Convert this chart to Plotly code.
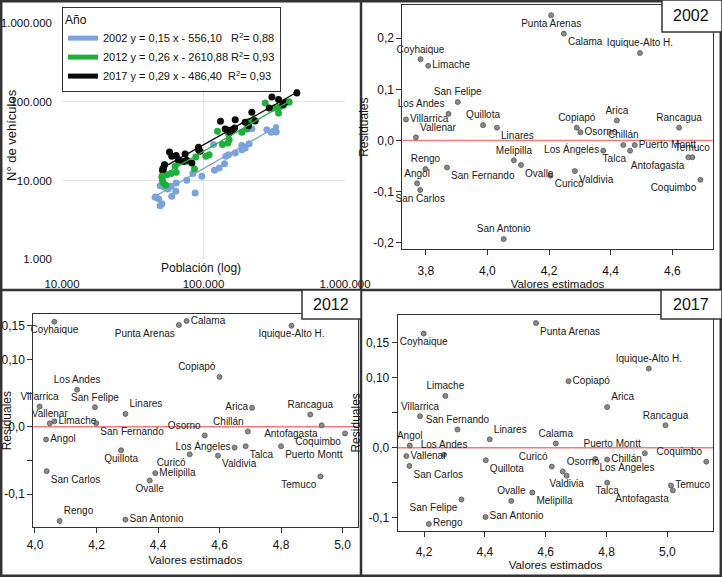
import plotly.graph_objects as go

# ---------------- DATA ----------------
years = ["2002", "2012", "2017"]
legend_labels = [
    "2002 y = 0,15 x - 556,10   R<sup>2</sup>= 0,88",
    "2012 y = 0,26 x - 2610,88 R<sup>2</sup>= 0,93",
    "2017 y = 0,29 x - 486,40  R<sup>2</sup>= 0,93",
]

# Panel 1: población vs n° de vehículos (log-log)
pop_2002 = [45500, 48100, 49400, 50800, 49400, 52700, 56000, 59000, 59700, 63700, 64100,
            76200, 87300, 84100, 97300, 117700, 119700, 129100, 140700, 143900, 150300,
            167500, 186700, 196900, 210200, 219600, 280500, 300900, 312600, 326400, 186700]
veh_2002 = [6140, 5900, 4810, 5100, 8630, 8300, 7830, 8470, 6320, 7310, 9330,
            10090, 6970, 12280, 11350, 28700, 13520, 14490, 16440, 20380, 21400,
            22490, 27870, 26020, 29510, 45800, 44500, 41150, 42400, 41550, 24770]
pop_2012 = [50800, 51300, 52100, 54200, 53000, 55100, 59000, 64100, 63100, 66500, 76200,
            86300, 88300, 103800, 109600, 125500, 136200, 148600, 151800, 150300, 163000,
            186700, 202500, 211300, 225600, 272900, 312600, 339100, 342700, 367400, 402700]
veh_2012 = [11140, 10000, 9340, 8720, 15960, 11910, 12280, 12760, 15210, 17100, 17620,
            14060, 19990, 20380, 21400, 42400, 28700, 30120, 33200, 39560, 45400,
            41150, 45400, 56800, 59600, 97100, 83900, 72500, 86300, 90700, 99100]
pop_2017 = [457100, 304300, 339100, 363800, 291100, 219600, 167500, 131900, 142200, 150300,
            160300, 165600, 196900, 231700, 92200, 94700, 57500, 64100, 74100, 66500,
            76200, 72200, 53000, 52100, 51300, 208000, 92200, 154200, 59700, 82800, 377600]
veh_2017 = [130100, 115800, 107100, 92500, 83900, 73900, 59600, 56800, 45400, 43650,
            44500, 46700, 55200, 57300, 26540, 23600, 23130, 20800, 21830, 18490,
            18130, 17450, 15960, 14060, 13520, 50000, 24770, 41150, 20380, 16800, 99100]

# fitted lines (end points)
fit_pop = {"2002": [45500, 326000], "2012": [50800, 402700], "2017": [51300, 457000]}
fit_veh = {"2002": [6300, 48000], "2012": [11600, 101900], "2017": [14500, 132700]}

log_x_ticks = [10000, 100000, 1000000]
log_x_text = ["10.000", "100.000", "1.000.000"]
log_y_ticks = [1000, 10000, 100000, 1000000]
log_y_text = ["1.000", "10.000", "100.000", "1.000.000"]

# Residual panels
cities = ["Angol", "Antofagasta", "Arica", "Calama", "Chillán", "Copiapó", "Coquimbo",
          "Coyhaique", "Curicó", "Iquique-Alto H.", "Limache", "Linares", "Los Andes",
          "Los Ángeles", "Melipilla", "Osorno", "Ovalle", "Puerto Montt", "Punta Arenas",
          "Quillota", "Rancagua", "Rengo", "San Antonio", "San Carlos", "San Felipe",
          "San Fernando", "Talca", "Temuco", "Valdivia", "Vallenar", "Villarrica"]

fitted_2002 = [3.772, 4.652, 4.420, 4.248, 4.441, 4.290, 4.691, 3.783, 4.205, 4.495, 3.808,
               4.031, 3.874, 4.376, 4.086, 4.302, 4.109, 4.478, 4.207, 3.986, 4.622, 3.799,
               4.053, 3.782, 3.904, 3.869, 4.463, 4.665, 4.284, 3.768, 3.736]
resid_2002 = [-0.084, -0.033, 0.039, 0.209, -0.009, 0.025, -0.077, 0.159, -0.069, 0.171, 0.146,
              0.025, 0.052, -0.020, -0.039, 0.016, -0.048, -0.009, 0.245, 0.030, 0.025, -0.056,
              -0.193, -0.097, 0.075, -0.053, -0.020, -0.033, -0.060, 0.006, 0.041]

fitted_2012 = [4.036, 4.932, 4.706, 4.493, 4.692, 4.600, 5.008, 4.063, 4.503, 4.834, 4.063,
               4.294, 4.137, 4.649, 4.391, 4.552, 4.373, 4.800, 4.468, 4.280, 4.895, 4.080,
               4.294, 4.038, 4.195, 4.199, 4.685, 4.928, 4.595, 4.048, 4.015]
resid_2012 = [-0.019, 0.002, 0.028, 0.157, -0.007, 0.074, -0.010, 0.156, -0.041, 0.150, 0.008,
              0.019, 0.055, -0.031, -0.069, -0.013, -0.080, -0.029, 0.151, -0.035, 0.018, -0.140,
              -0.138, -0.066, 0.029, 0.005, -0.029, -0.074, -0.043, 0.005, 0.030]

fitted_2017 = [4.153, 5.018, 4.802, 4.633, 4.802, 4.675, 5.128, 4.199, 4.620, 4.939, 4.270,
               4.416, 4.266, 4.763, 4.556, 4.656, 4.487, 4.926, 4.568, 4.403, 4.994, 4.216,
               4.402, 4.152, 4.323, 4.310, 4.802, 5.012, 4.669, 4.142, 4.187]
resid_2017 = [0.003, -0.061, 0.058, 0.006, -0.017, 0.095, -0.020, 0.163, -0.027, 0.113, 0.074,
              0.012, -0.010, -0.016, -0.064, -0.034, -0.076, -0.008, 0.178, -0.018, 0.032, -0.109,
              -0.099, -0.026, -0.074, 0.026, -0.050, -0.054, -0.040, -0.012, 0.045]

x_ticks_2002 = [3.8, 4.0, 4.2, 4.4, 4.6]
x_text_2002 = ["3,8", "4,0", "4,2", "4,4", "4,6"]
y_ticks_2002 = [-0.2, -0.1, 0.0, 0.1, 0.2]
y_text_2002 = ["-0,2", "-0,1", "0,0", "0,1", "0,2"]
x_ticks_2012 = [4.0, 4.2, 4.4, 4.6, 4.8, 5.0]
x_text_2012 = ["4,0", "4,2", "4,4", "4,6", "4,8", "5,0"]
y_ticks_2012 = [-0.1, 0.0, 0.10, 0.15]
y_text_2012 = ["-0,1", "0,0", "0,10", "0,15"]
y_minor_2012 = [-0.05, 0.05]
x_ticks_2017 = [4.2, 4.4, 4.6, 4.8, 5.0]
x_text_2017 = ["4,2", "4,4", "4,6", "4,8", "5,0"]
y_ticks_2017 = [-0.1, 0.0, 0.10, 0.15]
y_text_2017 = ["-0,1", "0,0", "0,10", "0,15"]
y_minor_2017 = [-0.05, 0.05]

# ---------------- STYLE ----------------
W, H = 722, 577
FONT = "Liberation Sans, Arial, sans-serif"
DARK = "#333333"
year_colors = {"2002": "#7BA3D9", "2012": "#1FAF3A", "2017": "#0A0A0A"}

label_pos = {
    "2002": {"Angol": "top center", "Antofagasta": "bottom left", "Arica": "top center",
             "Calama": "bottom right", "Chillán": "top center", "Copiapó": "top center",
             "Coquimbo": "bottom left", "Coyhaique": "top center", "Curicó": "bottom right",
             "Iquique-Alto H.": "top center", "Limache": "middle right", "Linares": "bottom right",
             "Los Andes": "top left", "Los Ángeles": "middle left", "Melipilla": "top center",
             "Osorno": "middle right", "Ovalle": "bottom right", "Puerto Montt": "middle right",
             "Punta Arenas": "bottom center", "Quillota": "top center", "Rancagua": "top center",
             "Rengo": "top center", "San Antonio": "top center", "San Carlos": "bottom center",
             "San Felipe": "top center", "San Fernando": "bottom right", "Talca": "bottom left",
             "Temuco": "top center", "Valdivia": "bottom right", "Vallenar": "top right",
             "Villarrica": "middle right"},
    "2012": {"Angol": "middle right", "Antofagasta": "bottom left", "Arica": "middle left",
             "Calama": "middle right", "Chillán": "top left", "Copiapó": "top left",
             "Coquimbo": "bottom left", "Coyhaique": "bottom center", "Curicó": "bottom left",
             "Iquique-Alto H.": "bottom center", "Limache": "middle right", "Linares": "top right",
             "Los Andes": "top center", "Los Ángeles": "middle left", "Melipilla": "middle right",
             "Osorno": "top left", "Ovalle": "bottom center", "Puerto Montt": "bottom right",
             "Punta Arenas": "bottom left", "Quillota": "bottom center", "Rancagua": "top center",
             "Rengo": "top right", "San Antonio": "middle right", "San Carlos": "bottom right",
             "San Felipe": "top center", "San Fernando": "bottom right", "Talca": "bottom right",
             "Temuco": "bottom left", "Valdivia": "bottom right", "Vallenar": "top center",
             "Villarrica": "top center"},
    "2017": {"Angol": "top center", "Antofagasta": "bottom left", "Arica": "top right",
             "Calama": "top center", "Chillán": "middle right", "Copiapó": "middle right",
             "Coquimbo": "top left", "Coyhaique": "bottom center", "Curicó": "top left",
             "Iquique-Alto H.": "top center", "Limache": "top center", "Linares": "top right",
             "Los Andes": "top center", "Los Ángeles": "bottom right", "Melipilla": "bottom right",
             "Osorno": "top right", "Ovalle": "top center", "Puerto Montt": "top left",
             "Punta Arenas": "bottom right", "Quillota": "bottom right", "Rancagua": "top center",
             "Rengo": "middle right", "San Antonio": "middle right", "San Carlos": "bottom right",
             "San Felipe": "bottom left", "San Fernando": "top center", "Talca": "bottom center",
             "Temuco": "middle right", "Valdivia": "bottom center", "Vallenar": "middle right",
             "Villarrica": "top center"},
}


def px_x(p):
    return p / W


def px_y(p):
    return 1 - p / H


fig = go.Figure()

# ---- panel 1 scatter ----
scatter_data = {"2002": (pop_2002, veh_2002), "2012": (pop_2012, veh_2012),
                "2017": (pop_2017, veh_2017)}
for yr in years:
    xs, ys = scatter_data[yr]
    fig.add_trace(go.Scatter(x=xs, y=ys, mode="markers", showlegend=False,
                             marker=dict(size=7, color=year_colors[yr]),
                             xaxis="x", yaxis="y", hoverinfo="skip"))
for yr, lab in zip(years, legend_labels):
    fig.add_trace(go.Scatter(x=fit_pop[yr], y=fit_veh[yr], mode="lines+markers", name=lab,
                             marker=dict(size=0, color=year_colors[yr]),
                             line=dict(color=year_colors[yr], width=1.3),
                             xaxis="x", yaxis="y"))

# ---- residual panels ----
resid_sets = [("2002", fitted_2002, resid_2002, "x2", "y2"),
              ("2012", fitted_2012, resid_2012, "x3", "y3"),
              ("2017", fitted_2017, resid_2017, "x4", "y4")]
for yr, fx, ry, xa, ya in resid_sets:
    fig.add_trace(go.Scatter(
        x=fx, y=ry, mode="markers+text", text=cities,
        textposition=[label_pos[yr][c] for c in cities],
        textfont=dict(family=FONT, size=10, color="#1a1a1a"),
        marker=dict(size=5, color="#8a8a8a", line=dict(color="#555555", width=0.8)),
        showlegend=False, xaxis=xa, yaxis=ya, cliponaxis=False))

res_axis = dict(showline=True, mirror=True, linecolor=DARK, linewidth=1, ticks="outside",
                ticklen=5, tickcolor=DARK, showgrid=False, zeroline=False, automargin=False,
                tickfont=dict(family=FONT, size=12, color="#111"))
minor_style = dict(ticks="outside", ticklen=5, tickcolor=DARK, showgrid=False)
xtitle_font = dict(family=FONT, size=11.5, color="#111")
ytitle_font = dict(family=FONT, size=12, color="#111")

fig.update_layout(
    template="none",
    width=W, height=H, margin=dict(l=0, r=0, t=0, b=0, autoexpand=False),
    paper_bgcolor="white", plot_bgcolor="white",
    font=dict(family=FONT, color="#111"),
    xaxis=dict(type="log", range=[4, 6], domain=[px_x(62), px_x(345)], anchor="y",
               showgrid=True, gridcolor="#e4e4e4", gridwidth=1, zeroline=False,
               tickvals=log_x_ticks, ticktext=log_x_text, ticks="", ticklabelstandoff=16,
               tickfont=dict(family=FONT, size=11.5, color="#111"), showline=False,
               automargin=False),
    yaxis=dict(type="log", range=[3, 6], domain=[px_y(259.3), px_y(23.3)], anchor="x",
               showgrid=True, gridcolor="#e4e4e4", gridwidth=1, zeroline=False,
               tickvals=log_y_ticks, ticktext=log_y_text, ticks="", ticklabelstandoff=9,
               tickfont=dict(family=FONT, size=11.5, color="#111"), showline=False,
               automargin=False),
    xaxis2=dict(res_axis, range=[3.724, 4.731], domain=[px_x(402.3), px_x(712.7)], anchor="y2",
                tickvals=x_ticks_2002, ticktext=x_text_2002, ticklabelstandoff=5,
                title=dict(text="Valores estimados", font=xtitle_font, standoff=0)),
    yaxis2=dict(res_axis, range=[-0.213, 0.265], domain=[px_y(249.3), px_y(5)], anchor="x2",
                tickvals=y_ticks_2002, ticktext=y_text_2002,
                title=dict(text="Residuales", font=ytitle_font, standoff=2)),
    xaxis3=dict(res_axis, range=[3.9945, 5.0486], domain=[px_x(33.3), px_x(357.5)], anchor="y3",
                tickvals=x_ticks_2012, ticktext=x_text_2012, ticklabelstandoff=1,
                title=dict(text="Valores estimados", font=xtitle_font, standoff=5)),
    yaxis3=dict(res_axis, range=[-0.1494, 0.1674], domain=[px_y(527.3), px_y(314)], anchor="x3",
                tickvals=y_ticks_2012, ticktext=y_text_2012,
                minor=dict(minor_style, tickvals=y_minor_2012),
                title=dict(text="Residuales", font=ytitle_font, standoff=2)),
    xaxis4=dict(res_axis, range=[4.1135, 5.151], domain=[px_x(397.7), px_x(713.3)], anchor="y4",
                tickvals=x_ticks_2017, ticktext=x_text_2017, ticklabelstandoff=5,
                title=dict(text="Valores estimados", font=xtitle_font, standoff=0)),
    yaxis4=dict(res_axis, range=[-0.1186, 0.1896], domain=[px_y(530.7), px_y(315)], anchor="x4",
                tickvals=y_ticks_2017, ticktext=y_text_2017,
                minor=dict(minor_style, tickvals=y_minor_2017),
                title=dict(text="Residuales", font=ytitle_font, standoff=2)),
    legend=dict(x=px_x(62), y=px_y(7), xanchor="left", yanchor="top", bgcolor="white",
                bordercolor=DARK, borderwidth=1, itemsizing="constant", tracegroupgap=0,
                itemwidth=30,
                font=dict(family=FONT, size=11, color="#111"),
                title=dict(text="Año", font=dict(family=FONT, size=12, color="#111"))),
)

shapes = []
# zero lines
for xa, ya in [("x2", "y2"), ("x3", "y3"), ("x4", "y4")]:
    shapes.append(dict(type="line", xref=f"{xa} domain", x0=0, x1=1, yref=ya, y0=0, y1=0,
                       line=dict(color="#F07C7C", width=1.6), layer="below"))
# frame and dividers
shapes.append(dict(type="rect", xref="paper", yref="paper", x0=px_x(1.2), x1=px_x(W - 1.2),
                   y0=px_y(H - 1.2), y1=px_y(1.2), line=dict(color=DARK, width=2.5)))
shapes.append(dict(type="line", xref="paper", yref="paper", x0=px_x(361), x1=px_x(361),
                   y0=0, y1=1, line=dict(color=DARK, width=2.5)))
shapes.append(dict(type="line", xref="paper", yref="paper", x0=0, x1=1,
                   y0=px_y(290), y1=px_y(290), line=dict(color=DARK, width=2.5)))
# year boxes
boxes = [("2002", 662, 722, 0, 32), ("2012", 302, 361, 290, 319), ("2017", 661, 722, 290, 319)]
annotations = []
for yr, x0, x1, y0, y1 in boxes:
    shapes.append(dict(type="rect", xref="paper", yref="paper", x0=px_x(x0), x1=px_x(x1),
                       y0=px_y(y1), y1=px_y(y0), fillcolor="white",
                       line=dict(color=DARK, width=1.5)))
    annotations.append(dict(text=yr, xref="paper", yref="paper", x=px_x((x0 + x1) / 2 - 1),
                            y=px_y((y0 + y1) / 2), showarrow=False, xanchor="center",
                            yanchor="middle", font=dict(family=FONT, size=16, color="#111")))

annotations.append(dict(text="Población (log)", xref="paper", yref="paper", x=px_x(200.7),
                        y=px_y(268), showarrow=False, xanchor="center", yanchor="middle",
                        font=dict(family=FONT, size=12, color="#111")))
annotations.append(dict(text="N° de vehículos", xref="paper", yref="paper", x=px_x(11),
                        y=px_y(135), showarrow=False, xanchor="center", yanchor="middle",
                        textangle=-90, font=dict(family=FONT, size=13, color="#111")))

fig.update_layout(shapes=shapes, annotations=annotations)
fig.write_html("out.html", config={"displayModeBar": False},
               post_script="document.body.style.margin='0px';")
